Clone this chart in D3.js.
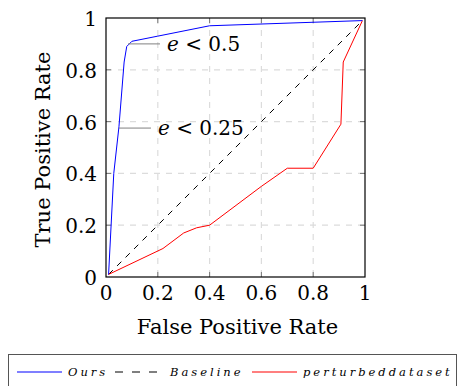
<!DOCTYPE html>
<html>
<head>
<meta charset="utf-8">
<script src="https://cdn.jsdelivr.net/npm/d3@7"></script>
<style>
  body { margin: 0; background: #fff; }
  text { font-family: "DejaVu Serif", "Liberation Serif", serif; fill: #000; }
</style>
</head>
<body>
<div id="chart"></div>
<script>
// data
var oursFpr = [0.01, 0.03, 0.05, 0.07, 0.08, 0.1, 0.2, 0.4, 0.99];
var oursTpr = [0.01, 0.4, 0.58, 0.83, 0.89, 0.91, 0.93, 0.97, 0.99];

var baseFpr = [0.01, 0.99];
var baseTpr = [0.01, 0.99];

var pertFpr = [0.01, 0.22, 0.3, 0.35, 0.4, 0.6, 0.7, 0.8, 0.907, 0.916, 0.99];
var pertTpr = [0.01, 0.11, 0.17, 0.19, 0.2, 0.35, 0.42, 0.42, 0.59, 0.83, 0.99];

var tickVals = [0, 0.2, 0.4, 0.6, 0.8, 1];
var tickLabels = ["0", "0.2", "0.4", "0.6", "0.8", "1"];

// pins on the blue curve
var pinLabels = ["e < 0.5", "e < 0.25"];
var pinPoints = [[0.085, 0.9], [0.05, 0.575]];

var svgWidth = 458, svgHeight = 386;
var margin = {top: 18, left: 106};
var width = 259, height = 259;

var svg = d3.select("#chart").append("svg")
  .attr("width", svgWidth)
  .attr("height", svgHeight);

var g = svg.append("g")
  .attr("transform", `translate(${margin.left}, ${margin.top})`);

var x = d3.scaleLinear().domain([0, 1]).range([0, width]);
var y = d3.scaleLinear().domain([0, 1]).range([height, 0]);

// grid
var grid = tickVals.slice(1, 5);
g.selectAll(".gx").data(grid).enter().append("line")
  .attr("x1", d => x(d)).attr("x2", d => x(d))
  .attr("y1", 0).attr("y2", height)
  .attr("stroke", "#dcdcdc").attr("stroke-width", 1.2)
  .attr("stroke-dasharray", "6,6");
g.selectAll(".gy").data(grid).enter().append("line")
  .attr("y1", d => y(d)).attr("y2", d => y(d))
  .attr("x1", 0).attr("x2", width)
  .attr("stroke", "#dcdcdc").attr("stroke-width", 1.2)
  .attr("stroke-dasharray", "6,6");

// inner tick marks on all four sides
var tl = 5;
g.selectAll(".tb").data(grid).enter().append("line")
  .attr("x1", d => x(d)).attr("x2", d => x(d))
  .attr("y1", height).attr("y2", height - tl).attr("stroke", "#777");
g.selectAll(".tt").data(grid).enter().append("line")
  .attr("x1", d => x(d)).attr("x2", d => x(d))
  .attr("y1", 0).attr("y2", tl).attr("stroke", "#777");
g.selectAll(".tl").data(grid).enter().append("line")
  .attr("y1", d => y(d)).attr("y2", d => y(d))
  .attr("x1", 0).attr("x2", tl).attr("stroke", "#777");
g.selectAll(".tr").data(grid).enter().append("line")
  .attr("y1", d => y(d)).attr("y2", d => y(d))
  .attr("x1", width).attr("x2", width - tl).attr("stroke", "#777");

// tick labels
g.selectAll(".xl").data(tickVals).enter().append("text")
  .attr("x", d => x(d)).attr("y", height + 23)
  .attr("text-anchor", "middle").attr("font-size", 20)
  .text((d, i) => tickLabels[i]);
g.selectAll(".yl").data(tickVals).enter().append("text")
  .attr("x", -9).attr("y", d => y(d) + 8)
  .attr("text-anchor", "end").attr("font-size", 20)
  .text((d, i) => tickLabels[i]);

var line = d3.line().x(d => x(d[0])).y(d => y(d[1]));

g.append("path")
  .datum(baseFpr.map((v, i) => [v, baseTpr[i]]))
  .attr("d", line).attr("fill", "none")
  .attr("stroke", "#000").attr("stroke-width", 1)
  .attr("stroke-dasharray", "6,6");

g.append("path")
  .datum(pertFpr.map((v, i) => [v, pertTpr[i]]))
  .attr("d", line).attr("fill", "none")
  .attr("stroke", "red").attr("stroke-width", 1);

g.append("path")
  .datum(oursFpr.map((v, i) => [v, oursTpr[i]]))
  .attr("d", line).attr("fill", "none")
  .attr("stroke", "blue").attr("stroke-width", 1);

// pins
pinPoints.forEach(function(p, i) {
  var px = x(p[0]), py = y(p[1]);
  g.append("line")
    .attr("x1", px).attr("x2", px + 32)
    .attr("y1", py).attr("y2", py)
    .attr("stroke", "#808080").attr("stroke-width", 1);
  var t = g.append("text")
    .attr("x", px + 39).attr("y", py + 7)
    .attr("font-size", 20);
  var parts = pinLabels[i].split(" ");
  t.append("tspan").attr("font-style", "italic").text(parts[0]);
  t.append("tspan").text(" " + parts.slice(1).join(" "));
});

// frame
g.append("rect")
  .attr("width", width).attr("height", height)
  .attr("fill", "none").attr("stroke", "#000").attr("stroke-width", 1.2);

// axis titles
svg.append("text")
  .attr("x", margin.left + width / 2 + 2).attr("y", 334)
  .attr("text-anchor", "middle").attr("font-size", 21)
  .text("False Positive Rate");
svg.append("text")
  .attr("transform", `translate(50, ${margin.top + height / 2 + 2}) rotate(-90)`)
  .attr("text-anchor", "middle").attr("font-size", 21)
  .text("True Positive Rate");

// legend
var leg = svg.append("g");
leg.append("rect")
  .attr("x", 8.5).attr("y", 354.5).attr("width", 448).attr("height", 40)
  .attr("fill", "#fff").attr("stroke", "#555").attr("stroke-width", 1);

var legNames = ["Ours", "Baseline", "perturbeddataset"];
var legColors = ["blue", "#000", "red"];
var legDash = [null, "8,9", null];
var legX = [17, 115, 252];
var ly = 372;
legNames.forEach(function(n, i) {
  leg.append("line")
    .attr("x1", legX[i]).attr("x2", legX[i] + 45)
    .attr("y1", ly).attr("y2", ly)
    .attr("stroke", legColors[i]).attr("stroke-width", 1.2)
    .attr("stroke-dasharray", legDash[i]);
  leg.append("text")
    .attr("x", legX[i] + (i == 1 ? 55 : 51)).attr("y", ly + 4)
    .attr("font-size", 11.5).attr("font-style", "italic")
    .attr("letter-spacing", 3)
    .text(n);
});
</script>
</body>
</html>
